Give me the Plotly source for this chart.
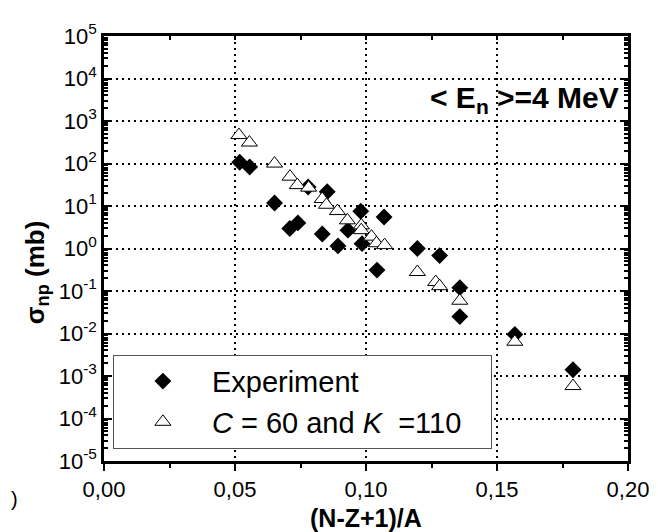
import plotly.graph_objects as go

# ---- data ----
exp_x = [0.0518, 0.0556, 0.0651, 0.0709, 0.0740, 0.0779, 0.0833, 0.0852, 0.0893, 0.0931,
         0.0980, 0.0985, 0.1042, 0.1069, 0.1196, 0.1281, 0.1358, 0.1358, 0.1568, 0.1790]
exp_y = [107, 83, 11.8, 2.95, 4.0, 28, 2.2, 21.6, 1.15, 2.7,
         7.5, 1.3, 0.31, 5.5, 1.0, 0.68, 0.12, 0.025, 0.0095, 0.0014]

calc_x = [0.0515, 0.0555, 0.0651, 0.0710, 0.0738, 0.0781, 0.0833, 0.0849, 0.0891, 0.0929,
          0.0982, 0.0982, 0.1021, 0.1040, 0.1071, 0.1196, 0.1266, 0.1281, 0.1358, 0.1568, 0.1790]
calc_y = [467, 311, 99.5, 49, 31, 27, 14.6, 10.7, 7.6, 4.6,
          3.5, 2.7, 1.9, 1.33, 1.2, 0.28, 0.163, 0.13, 0.059, 0.0064, 0.00058]

x_tickvals = [0.0, 0.05, 0.10, 0.15, 0.20]
x_ticktext = ["0,00", "0,05", "0,10", "0,15", "0,20"]
y_exponents = list(range(-5, 6))
y_tickvals = [10.0 ** e for e in y_exponents]
y_ticktext = ["10<sup>%d</sup>" % e for e in y_exponents]

FONT = "Liberation Sans, Arial, sans-serif"

fig = go.Figure()
fig.add_trace(go.Scatter(
    x=exp_x, y=exp_y, mode="markers", name="Experiment",
    marker=dict(symbol="diamond", size=13, color="black", line=dict(width=0)),
))
fig.add_trace(go.Scatter(
    x=calc_x, y=calc_y, mode="markers",
    name="<i>C</i> = 60 and <i>K</i>&nbsp; =110&nbsp;&nbsp;&nbsp;",
    marker=dict(symbol="triangle-up", size=14, color="white", line=dict(width=1, color="black")),
))
# empty helper trace for the top tick axis
fig.add_trace(go.Scatter(x=[], y=[], xaxis="x2", showlegend=False, hoverinfo="skip"))

fig.update_layout(
    width=658, height=532,
    margin=dict(l=96, r=38, t=21, b=79),
    paper_bgcolor="white", plot_bgcolor="white",
    font=dict(family=FONT, color="black", size=22),
    showlegend=True,
    legend=dict(
        x=0.017, y=0.25, xanchor="left", yanchor="top",
        bgcolor="white", bordercolor="#555", borderwidth=1,
        font=dict(family=FONT, size=29, color="black"),
        itemwidth=88,
    ),
    xaxis=dict(
        range=[0, 0.20], tickmode="array", tickvals=x_tickvals, ticktext=x_ticktext,
        ticks="outside", ticklen=7, tickwidth=2, tickcolor="black",
        minor=dict(tickmode="linear", tick0=0, dtick=0.025, ticks="outside", ticklen=4,
                   tickwidth=2, tickcolor="black", showgrid=False),
        showline=True, linecolor="black", linewidth=2.5, mirror=True,
        showgrid=True, gridcolor="black", gridwidth=1.5, griddash="2px,4px",
        zeroline=False,
        tickfont=dict(size=22),
    ),
    xaxis2=dict(
        overlaying="x", side="top", anchor="y", matches="x", range=[0, 0.20],
        tickmode="linear", tick0=0, dtick=0.025, ticks="inside", ticklen=4,
        tickwidth=2, tickcolor="black", showticklabels=False, showgrid=False,
        showline=False, zeroline=False,
    ),
    yaxis=dict(
        type="log", range=[-5, 5], tickmode="array", tickvals=y_tickvals, ticktext=y_ticktext,
        ticks="inside", ticklen=7, tickwidth=2, tickcolor="black",
        minor=dict(dtick="D1", ticks="inside", ticklen=4, tickwidth=1.5,
                   tickcolor="black", showgrid=False),
        showline=True, linecolor="black", linewidth=2.5, mirror="ticks",
        showgrid=True, gridcolor="black", gridwidth=1.5, griddash="2px,4px",
        zeroline=False,
        tickfont=dict(size=22),
    ),
    annotations=[
        dict(text="<b>(N-Z+1)/A</b>", xref="paper", yref="paper",
             x=0.5, y=-0.134, xanchor="center", yanchor="middle", showarrow=False,
             font=dict(family=FONT, size=25, color="black")),
        dict(text="<b>&lt; E<sub>n</sub> &gt;=4 MeV</b>", xref="paper", yref="paper",
             x=0.987, y=0.85, xanchor="right", yanchor="middle", showarrow=False,
             font=dict(family=FONT, size=30, color="black")),
        dict(text="<b>σ<sub>np</sub> (mb)</b>", xref="paper", yref="paper",
             x=-0.13, y=0.444, xanchor="center", yanchor="middle", textangle=-90,
             showarrow=False, font=dict(family=FONT, size=26, color="black")),
        dict(text=")", xref="paper", yref="paper", x=-0.182, y=-0.09, xanchor="left",
             yanchor="middle", showarrow=False, font=dict(family=FONT, size=20, color="black")),
    ],
)

fig.write_html("out.html")
